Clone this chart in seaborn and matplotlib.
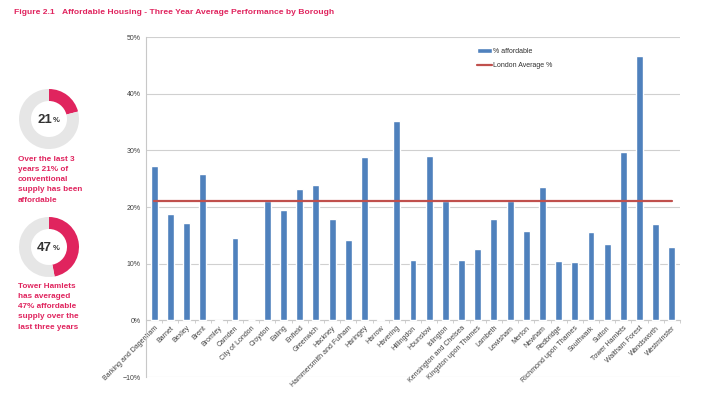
import numpy as np
import pandas as pd
import matplotlib
matplotlib.use("Agg")
import matplotlib.pyplot as plt
import seaborn as sns
from matplotlib.ticker import PercentFormatter, FixedLocator

boroughs = ["Barking and Dagenham", "Barnet", "Bexley", "Brent", "Bromley", "Camden",
            "City of London", "Croydon", "Ealing", "Enfield", "Greenwich", "Hackney",
            "Hammersmith and Fulham", "Haringey", "Harrow", "Havering", "Hillingdon",
            "Hounslow", "Islington", "Kensington and Chelsea", "Kingston upon Thames",
            "Lambeth", "Lewisham", "Merton", "Newham", "Redbridge", "Richmond upon Thames",
            "Southwark", "Sutton", "Tower Hamlets", "Waltham Forest", "Wandsworth", "Westminster"]
pct_affordable = [27.2, 18.8, 17.2, 25.9, -0.1, 14.5, 0.0, 21.0, 19.5, 23.1, 23.9, 17.9,
                  14.1, 28.9, 0.3, 35.1, 10.6, 29.0, 21.0, 10.7, 12.6, 17.8, 21.0, 15.8,
                  23.6, 10.5, 10.3, 15.6, 13.4, 29.7, 46.6, 17.0, 12.9]
london_avg = 21.0
yticks = [-10, 0, 10, 20, 30, 40, 50]
donut_values = [21, 47]
donut_texts = [["Over the last 3", "years 21% of", "conventional", "supply has been", "affordable"],
               ["Tower Hamlets", "has averaged", "47% affordable", "supply over the", "last three years"]]
title_num = "Figure 2.1"
title_txt = "Affordable Housing - Three Year Average Performance by Borough"

PINK = "#E0245E"
BLUE = "#4F81BD"
RED = "#C0504D"
GREY_RING = "#E6E6E6"

sns.set_theme(style="white")
plt.rcParams['font.family'] = ['Liberation Sans', 'DejaVu Sans']

W, H = 702, 394
fig = plt.figure(figsize=(W / 100, H / 100), dpi=100)

def fx(px):
    return px / W

def fy(py):
    return 1 - py / H

# Main chart
ax = fig.add_axes([fx(146), fy(377), fx(680 - 146), (377 - 37) / H])
df = pd.DataFrame({"borough": boroughs, "value": pct_affordable})
sns.barplot(data=df, x="borough", y="value", color=BLUE, width=0.43, ax=ax,
            saturation=1, label="% affordable", zorder=3)
line_df = pd.DataFrame({"x": np.arange(len(boroughs)), "y": [london_avg] * len(boroughs)})
sns.lineplot(data=line_df, x="x", y="y", color=RED, linewidth=1.6, ax=ax,
             label="London Average %", zorder=4)

ax.set_xlim(-0.5, len(boroughs) - 0.5)
ax.set_ylim(-10, 50)
ax.yaxis.set_major_locator(FixedLocator(yticks))
ax.yaxis.set_major_formatter(PercentFormatter(decimals=0))
ax.grid(axis="y", color="#D0D0D0", linewidth=0.8, zorder=0)
ax.set_xlabel("")
ax.set_ylabel("")
for s in ["top", "right"]:
    ax.spines[s].set_visible(False)
ax.spines["left"].set_color("#C8C8C8")
ax.spines["left"].set_linewidth(0.8)
ax.spines["bottom"].set_position(("data", 0))
ax.spines["bottom"].set_color("#C8C8C8")
ax.spines["bottom"].set_linewidth(0.8)
ax.set_xticks(range(len(boroughs)))
ax.set_xticklabels(boroughs, rotation=45, ha="right", rotation_mode="anchor",
                   fontsize=5, color="#404040")
ax.set_xticks(np.arange(-0.5, len(boroughs), 1), minor=True)
ax.tick_params(axis="x", which="major", length=0, pad=3)
ax.tick_params(axis="x", which="minor", length=2.5, width=0.6, color="#C8C8C8", direction="out", bottom=True)
ax.tick_params(axis="y", labelsize=5, colors="#404040", length=0, pad=4)

handles, labels = ax.get_legend_handles_labels()
order = [labels.index("% affordable"), labels.index("London Average %")]
leg = ax.legend([handles[i] for i in order], [labels[i] for i in order],
                loc="upper left", bbox_to_anchor=(fx(477), fy(48)),
                bbox_transform=fig.transFigure, frameon=False, fontsize=5,
                handlelength=2.2, handletextpad=0.15, labelspacing=1.0,
                borderaxespad=0, borderpad=0)
for t in leg.get_texts():
    t.set_color("#303030")

# Title
fig.text(fx(14), fy(13), title_num, fontsize=6.1, fontweight="bold", color=PINK, va="center")
fig.text(fx(62.5), fy(13), title_txt, fontsize=6.1, fontweight="bold", color=PINK, va="center")

# Donuts
centers = [(49, 119), (49, 247)]
radius = 30
text_tops = [159, 286]
for val, (cx, cy), lines, ty in zip(donut_values, centers, donut_texts, text_tops):
    dax = fig.add_axes([fx(cx - radius), fy(cy + radius), fx(2 * radius), 2 * radius / H])
    dax.pie([val, 100 - val], colors=[PINK, GREY_RING], startangle=90, counterclock=False,
            wedgeprops=dict(width=0.4, linewidth=0), radius=1)
    dax.set_aspect("equal")
    dax.set_xlim(-1, 1)
    dax.set_ylim(-1, 1)
    dax.axis("off")
    fig.text(fx(cx + 3), fy(cy + 1), str(val), fontsize=9.5, fontweight="bold",
             color="#333333", ha="right", va="center")
    fig.text(fx(cx + 3.5), fy(cy + 1), "%", fontsize=5.5, fontweight="bold",
             color="#333333", ha="left", va="center")
    for i, ln in enumerate(lines):
        fig.text(fx(18), fy(ty + i * 10.3), ln, fontsize=5.9, fontweight="bold",
                 color=PINK, ha="left", va="center")

fig.savefig("out.png", dpi=100)
